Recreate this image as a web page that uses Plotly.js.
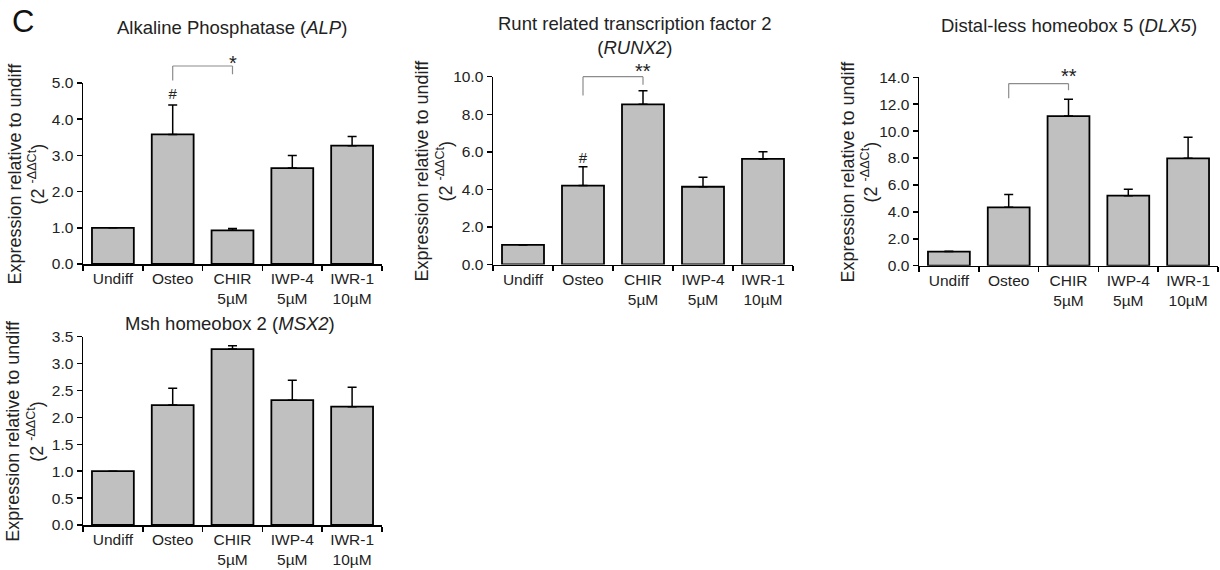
<!DOCTYPE html>
<html>
<head>
<meta charset="utf-8">
<script src="https://cdn.plot.ly/plotly-3.0.1.min.js"></script>
<style>html,body{margin:0;padding:0;background:#fff;}#chart{width:1220px;height:570px;}</style>
</head>
<body>
<div id="chart"></div>
<script>
// ---------- data ----------
const categories = ['Undiff', 'Osteo', 'CHIR<br>5µM', 'IWP-4<br>5µM', 'IWR-1<br>10µM'];

const alpMean   = [1.00, 3.58, 0.93, 2.65, 3.27];
const alpErr    = [0.00, 0.81, 0.05, 0.35, 0.25];
const runx2Mean = [1.04, 4.20, 8.53, 4.14, 5.62];
const runx2Err  = [0.00, 1.01, 0.72, 0.50, 0.38];
const dlx5Mean  = [1.05, 4.34, 11.12, 5.20, 7.98];
const dlx5Err   = [0.03, 0.96, 1.24, 0.48, 1.56];
const msx2Mean  = [1.00, 2.23, 3.27, 2.32, 2.20];
const msx2Err   = [0.00, 0.31, 0.06, 0.37, 0.36];

const panelTitles = [
  'Alkaline Phosphatase (<i>ALP</i>)',
  'Runt related transcription factor 2<br>(<i>RUNX2</i>)',
  'Distal-less homeobox 5 (<i>DLX5</i>)',
  'Msh homeobox 2 (<i>MSX2</i>)'
];
const yTop   = [5, 10, 14, 3.5];
const yDtick = [1, 2, 2, 0.5];
const yTitle = 'Expression relative to undiff<br>(2 <sup>-ΔΔCt</sup>)';

// significance brackets (Osteo vs CHIR) for panels 1-3
const bracketFrom  = 'Osteo';
const bracketTo    = 'CHIR<br>5µM';
const bracketTop   = [5.47, 10.00, 13.53];
const bracketLeft  = [5.07, 9.00, 12.45];
const bracketRight = [5.24, 9.57, 13.04];
const starText     = ['*', '**', '**'];
const starY        = [5.56, 10.28, 14.07];
// '#' markers above Osteo
const hashPanels = [0, 1];
const hashY      = [4.66, 5.63];

// ---------- layout geometry (pixels) ----------
const W = 1220, H = 570;
const panelBox = [
  {x0: 83,  x1: 382,  yb: 264,   yt: 83,    titleX: 232, titleY: 27,  ytX: 26},
  {x0: 493, x1: 793,  yb: 264.5, yt: 76.7,  titleX: 635, titleY: 36,  ytX: 434},
  {x0: 919, x1: 1218, yb: 265.7, yt: 77.3,  titleX: 1069, titleY: 25, ytX: 859},
  {x0: 83,  x1: 382,  yb: 525,   yt: 336.7, titleX: 230, titleY: 323, ytX: 25}
];

const FONT = 'Arial, "Liberation Sans", sans-serif';
const TXT = '#222';
const means = [alpMean, runx2Mean, dlx5Mean, msx2Mean];
const errs  = [alpErr, runx2Err, dlx5Err, msx2Err];

const traces = [];
const shapes = [];
const annotations = [];
const layout = {
  width: W, height: H,
  margin: {l: 0, r: 0, t: 0, b: 0},
  paper_bgcolor: '#fff', plot_bgcolor: '#fff',
  showlegend: false,
  font: {family: FONT, color: TXT, size: 15},
  bargap: 0.3
};

for (let p = 0; p < 4; p++) {
  const sfx = p === 0 ? '' : String(p + 1);
  const xa = 'x' + sfx, ya = 'y' + sfx;
  const b = panelBox[p];
  traces.push({
    type: 'bar', x: categories, y: means[p], xaxis: xa, yaxis: ya,
    marker: {color: '#c0c0c0', line: {color: '#000', width: 1.8}},
    error_y: {type: 'data', array: errs[p], arrayminus: errs[p].map(() => 0), symmetric: false,
              color: '#000', thickness: 1.5, width: 4.5},
    hoverinfo: 'x+y'
  });
  layout['xaxis' + sfx] = {
    domain: [b.x0 / W, b.x1 / W], anchor: ya, type: 'category',
    categoryorder: 'array', categoryarray: categories,
    range: [-0.5, 4.5], tickson: 'boundaries', ticks: 'outside', ticklen: 5,
    tickwidth: 1.5, tickcolor: '#000', showline: true, linecolor: '#000', linewidth: 1.5,
    showgrid: false, zeroline: false, tickfont: {size: 15.5, color: TXT, family: FONT}, fixedrange: true
  };
  layout['yaxis' + sfx] = {
    domain: [1 - b.yb / H, 1 - b.yt / H], anchor: xa,
    range: [0, yTop[p]], dtick: yDtick[p], tick0: 0, tickformat: '.1f',
    ticks: 'outside', ticklen: 5, tickwidth: 1.5, tickcolor: '#000',
    showline: true, linecolor: '#000', linewidth: 1.5, showgrid: false, zeroline: false,
    tickfont: {size: 15.5, color: TXT, family: FONT}, fixedrange: true
  };
  annotations.push({
    xref: 'paper', yref: 'paper', x: b.titleX / W, y: 1 - b.titleY / H,
    xanchor: 'center', yanchor: 'middle', showarrow: false,
    text: panelTitles[p], font: {size: 18.5, color: TXT, family: FONT}
  });
  annotations.push({
    xref: 'paper', yref: ya + ' domain', x: b.ytX / W, y: 0.5,
    xanchor: 'center', yanchor: 'middle', showarrow: false, textangle: -90,
    text: yTitle, font: {size: 18, color: TXT, family: FONT}
  });
}

// brackets and stars
for (let i = 0; i < bracketTop.length; i++) {
  const sfx = i === 0 ? '' : String(i + 1);
  const xa = 'x' + sfx, ya = 'y' + sfx;
  const frac = v => v / yTop[i];
  const ln = {color: '#8c8c8c', width: 1.2};
  shapes.push({type: 'line', xref: xa, yref: ya + ' domain', x0: bracketFrom, x1: bracketFrom,
               y0: frac(bracketLeft[i]), y1: frac(bracketTop[i]), line: ln});
  shapes.push({type: 'line', xref: xa, yref: ya + ' domain', x0: bracketFrom, x1: bracketTo,
               y0: frac(bracketTop[i]), y1: frac(bracketTop[i]), line: ln});
  shapes.push({type: 'line', xref: xa, yref: ya + ' domain', x0: bracketTo, x1: bracketTo,
               y0: frac(bracketRight[i]), y1: frac(bracketTop[i]), line: ln});
  annotations.push({
    xref: xa, yref: ya + ' domain', x: bracketTo, y: frac(starY[i]),
    xanchor: 'center', yanchor: 'middle', showarrow: false,
    text: starText[i], font: {size: 20, color: TXT, family: FONT}
  });
}
for (let k = 0; k < hashPanels.length; k++) {
  const i = hashPanels[k];
  const sfx = i === 0 ? '' : String(i + 1);
  traces.push({
    type: 'scatter', mode: 'text', x: ['Osteo'], y: [hashY[k]], text: ['#'],
    xaxis: 'x' + sfx, yaxis: 'y' + sfx, cliponaxis: false, textposition: 'middle center',
    textfont: {size: 15, color: TXT, family: FONT}, hoverinfo: 'skip'
  });
}

annotations.push({
  xref: 'paper', yref: 'paper', x: 23 / W, y: 1 - 21 / H, xanchor: 'center', yanchor: 'middle',
  showarrow: false, text: 'C', font: {size: 31, color: '#111', family: FONT}
});

layout.shapes = shapes;
layout.annotations = annotations;

Plotly.newPlot('chart', traces, layout, {displayModeBar: false, staticPlot: true});
</script>
</body>
</html>
